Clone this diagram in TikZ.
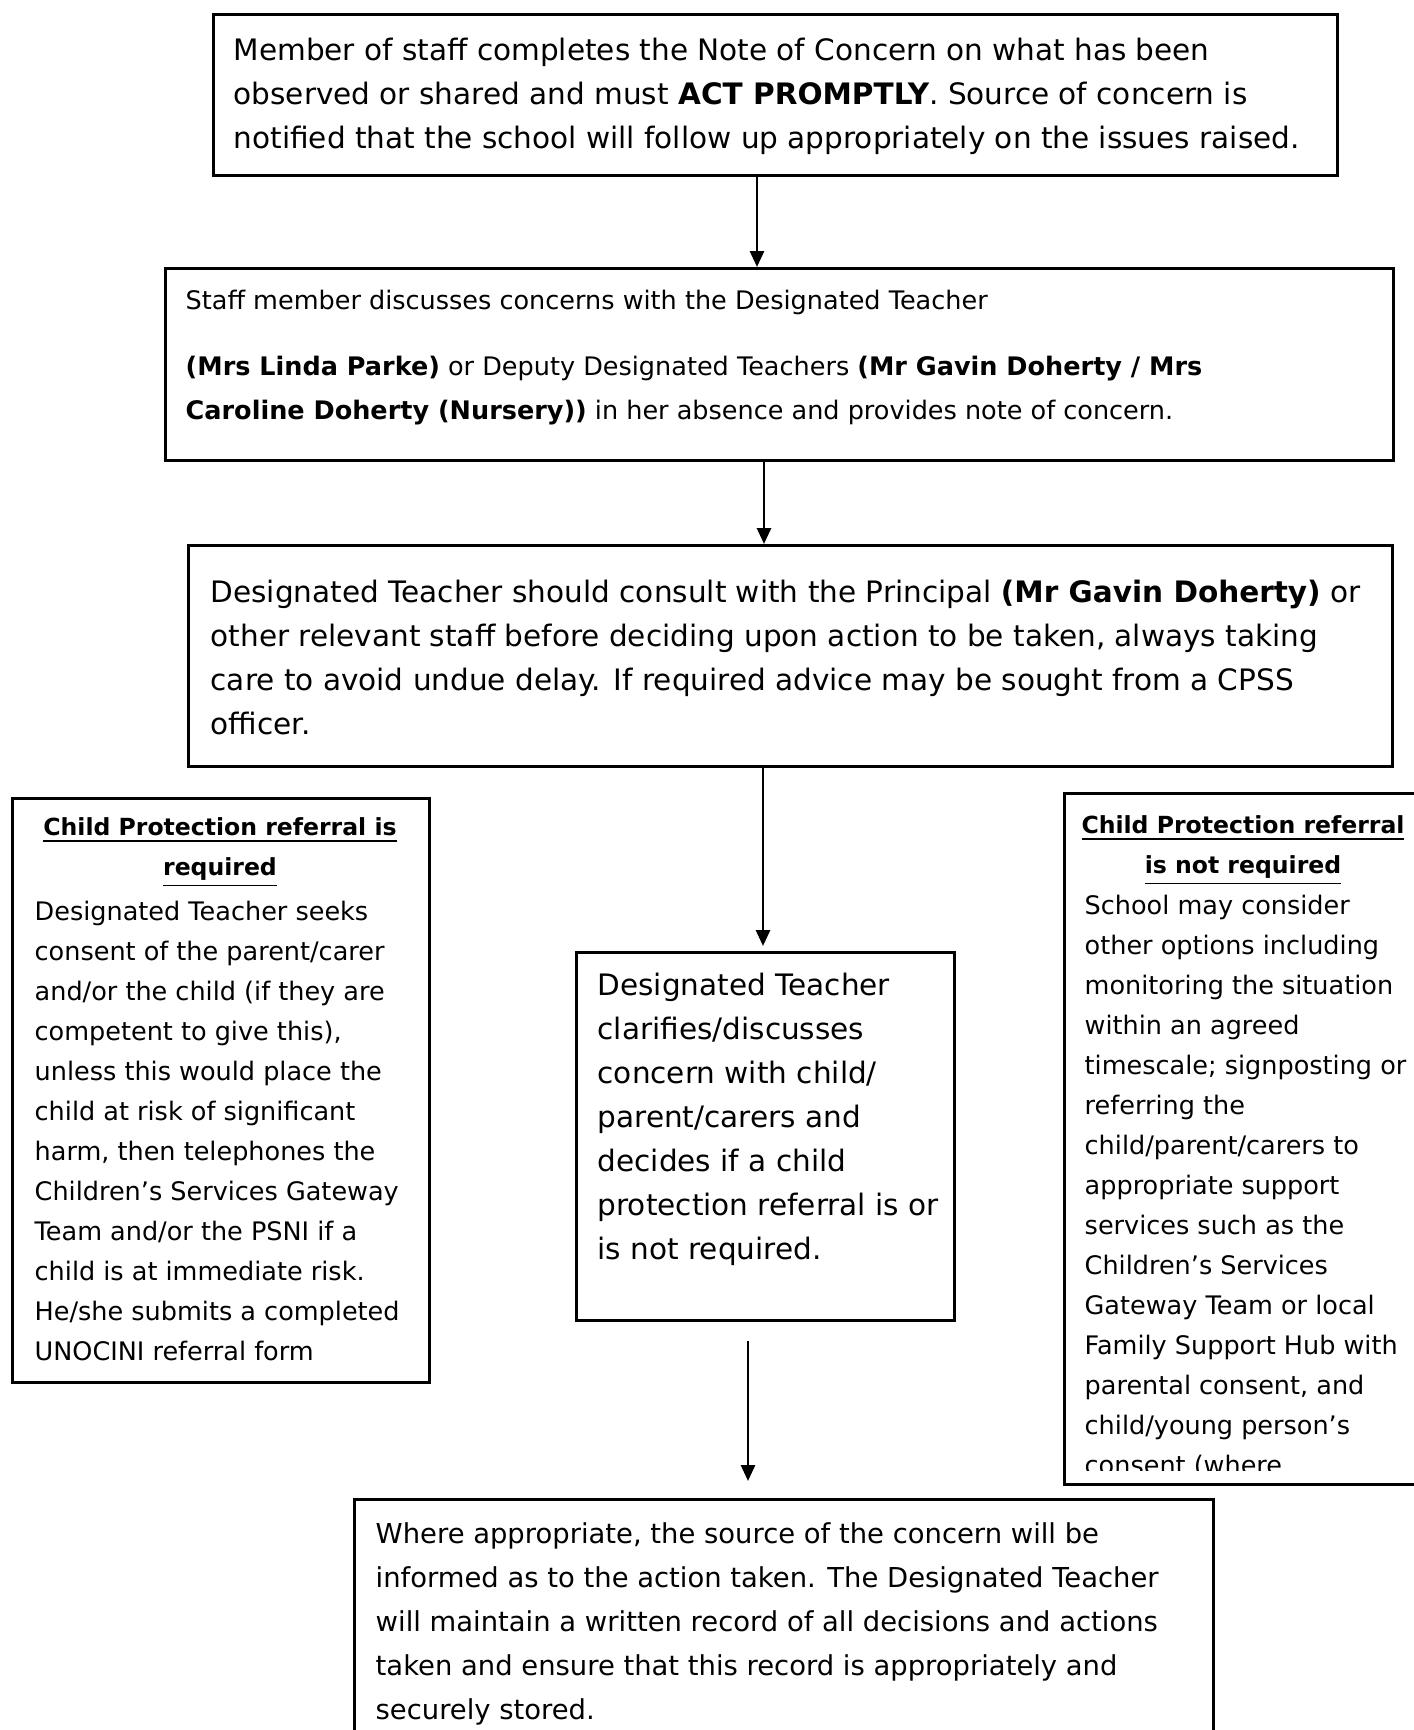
\documentclass[tikz,border=0pt]{standalone}
\usepackage{fontspec}
\setmainfont{DejaVu Sans}
\usetikzlibrary{arrows.meta}

\begin{document}
\begin{tikzpicture}[x=0.1mm, y=-0.1mm,
  box/.style={draw, line width=0.8pt, anchor=north west, inner sep=0pt},
  txt/.style={anchor=north west, align=left, inner sep=0pt},
  bigtext/.style={font=\fontsize{8.4}{12.52}\selectfont},
  smalltext/.style={font=\fontsize{7.26}{11.38}\selectfont},
  headtext/.style={anchor=north, align=center, inner sep=0pt, font=\fontsize{6.7}{11.38}\selectfont\bfseries},
  arr/.style={line width=0.8pt, -{Triangle[length=1.6mm,width=1.4mm]}}]
  \clip (0,0) rectangle (1414,1730);

  \node[box, minimum width=112.4mm, minimum height=16.1mm] (note) at (212,13) {};
  \node[box, minimum width=122.8mm, minimum height=19.2mm] (discuss) at (164,267) {};
  \node[box, minimum width=120.4mm, minimum height=22.1mm] (consult) at (187,544) {};
  \node[box, minimum width=41.7mm, minimum height=58.4mm] (required) at (11,797) {};
  \node[box, minimum width=37.8mm, minimum height=36.8mm] (clarify) at (575,951) {};
  \node[box, minimum width=37mm, minimum height=69.1mm] (notrequired) at (1063,792) {};
  \node[box, minimum width=85.9mm, minimum height=26mm] (record) at (353,1498) {};

  \node[txt, bigtext] (notetext) at (233,37)
    {Member of staff completes the Note of Concern on what has been\\
     observed or shared and must \textbf{ACT PROMPTLY}. Source of concern is\\
     notified that the school will follow up appropriately on the issues raised.};
  \node[txt, font=\fontsize{7.26}{12.52}\selectfont] (discusstext) at (185,289)
    {Staff member discusses concerns with the Designated Teacher\\[6.3pt]
     \textbf{(Mrs Linda Parke)} or Deputy Designated Teachers \textbf{(Mr Gavin Doherty / Mrs}\\
     \textbf{Caroline Doherty (Nursery))} in her absence and provides note of concern.};
  \node[txt, bigtext] (consulttext) at (210,579)
    {Designated Teacher should consult with the Principal \textbf{(Mr Gavin Doherty)} or\\
     other relevant staff before deciding upon action to be taken, always taking\\
     care to avoid undue delay. If required advice may be sought from a CPSS\\
     officer.};

  \node[headtext] (reqhead) at (220,817)
    {\underline{Child Protection referral is}\\ \underline{required}};
  \node[txt, smalltext] (reqtext) at (34,900)
    {Designated Teacher seeks\\
     consent of the parent/carer\\
     and/or the child (if they are\\
     competent to give this),\\
     unless this would place the\\
     child at risk of significant\\
     harm, then telephones the\\
     Children’s Services Gateway\\
     Team and/or the PSNI if a\\
     child is at immediate risk.\\
     He/she submits a completed\\
     UNOCINI referral form};

  \node[txt, bigtext] (clarifytext) at (597,972)
    {Designated Teacher\\
     clarifies/discusses\\
     concern with child/\\
     parent/carers and\\
     decides if a child\\
     protection referral is or\\
     is not required.};

  \node[headtext] (notreqhead) at (1243,815)
    {\underline{Child Protection referral}\\ \underline{is not required}};
  \begin{scope}
    \clip (1063,792) rectangle (1430,1470);
    \node[txt, smalltext] (notreqtext) at (1084,894)
      {School may consider\\
       other options including\\
       monitoring the situation\\
       within an agreed\\
       timescale; signposting or\\
       referring the\\
       child/parent/carers to\\
       appropriate support\\
       services such as the\\
       Children’s Services\\
       Gateway Team or local\\
       Family Support Hub with\\
       parental consent, and\\
       child/young person’s\\
       consent (where};
  \end{scope}

  \node[txt, font=\fontsize{7.8}{12.52}\selectfont] (recordtext) at (375,1522)
    {Where appropriate, the source of the concern will be\\
     informed as to the action taken. The Designated Teacher\\
     will maintain a written record of all decisions and actions\\
     taken and ensure that this record is appropriately and\\
     securely stored.};

  \coordinate (c1) at (757,0);
  \coordinate (c2) at (764,0);
  \coordinate (c3) at (763,0);
  \coordinate (c4) at (748,0);
  \draw[arr] (note.south -| c1) -- (discuss.north -| c1);
  \draw[arr] (discuss.south -| c2) -- (consult.north -| c2);
  \draw[arr, shorten >=0.5mm] (consult.south -| c3) -- (clarify.north -| c3);
  \draw[arr, shorten <=1.9mm, shorten >=1.7mm] (clarify.south -| c4) -- (record.north -| c4);
\end{tikzpicture}
\end{document}
